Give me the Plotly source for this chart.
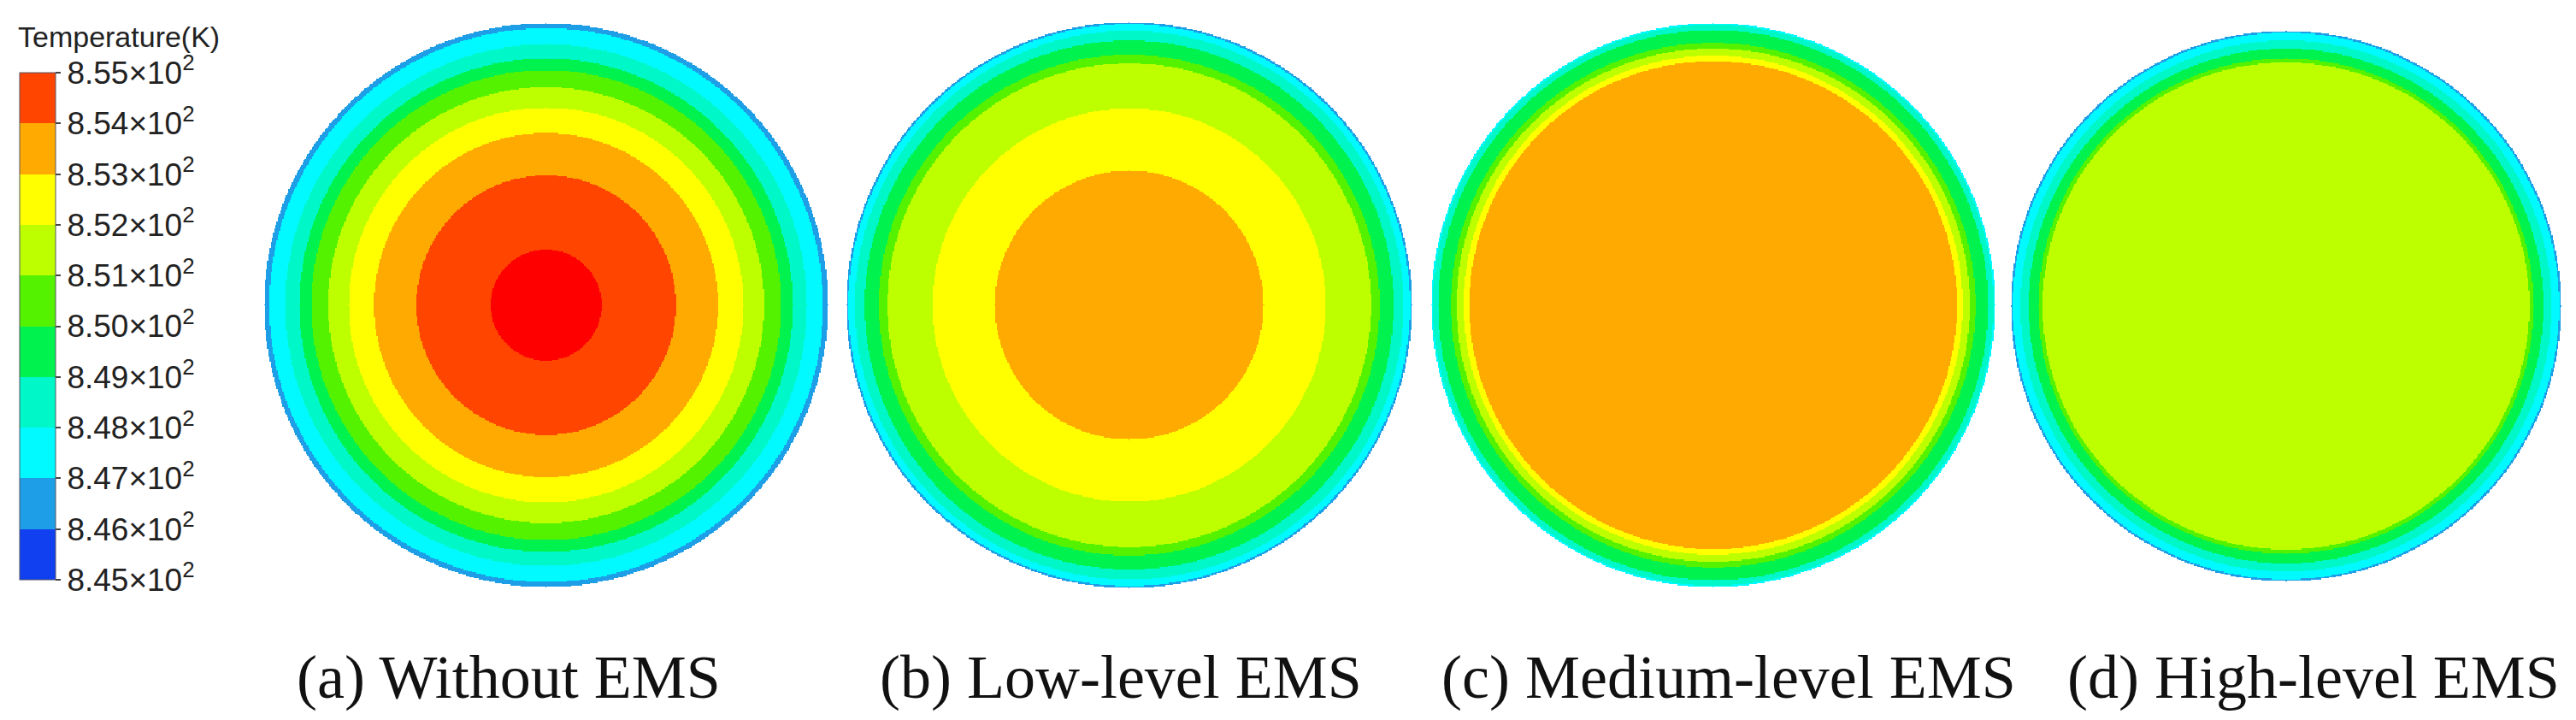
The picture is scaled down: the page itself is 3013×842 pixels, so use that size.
import numpy as np
import plotly.graph_objects as go

# ---------------- data ----------------
panel_labels = ["(a) Without EMS", "(b) Low-level EMS", "(c) Medium-level EMS", "(d) High-level EMS"]

# colour bar levels (K) and tick labels
bar_levels = [845, 846, 847, 848, 849, 850, 851, 852, 853, 854, 855]
bar_ticktext = ["8.%02d×10<sup>2</sup>" % (v - 800) for v in bar_levels]
bar_title = "Temperature(K)"

# band colours, low -> high (last one = above 855 K, centre of case a)
band_colors = ["#1040F0", "#1E9EE6", "#00FAFF", "#00F8C8", "#00F24E",
               "#55F200", "#BEFF00", "#FFFF00", "#FFAA00", "#FF4500", "#FF0000"]

# isotherm radii (fraction of section radius),
# with the temperature reached at each radius (centre -> wall)
radii_a = [0.0, 0.197, 0.46, 0.61, 0.70, 0.773, 0.833, 0.875, 0.925, 0.982, 1.0]
temps_a = [855.5, 855.0, 854.0, 853.0, 852.0, 851.0, 850.0, 849.0, 848.0, 847.0, 846.6]

radii_b = [0.0, 0.475, 0.695, 0.855, 0.885, 0.935, 0.97, 0.993, 1.0]
temps_b = [853.5, 853.0, 852.0, 851.0, 850.0, 849.0, 848.0, 847.0, 846.8]

radii_c = [0.0, 0.865, 0.885, 0.91, 0.93, 0.975, 0.994, 1.0]
temps_c = [853.5, 853.0, 852.0, 851.0, 850.0, 849.0, 848.0, 847.8]

radii_d = [0.0, 0.885, 0.90, 0.935, 0.965, 0.993, 1.0]
temps_d = [851.5, 851.0, 850.0, 849.0, 848.0, 847.0, 846.8]

# ---------------- layout geometry (pixels) ----------------
W, H = 3013, 842
disk_cx = [631, 1313, 1996, 2666]
disk_cy = [349, 349, 349, 350]
disk_r = [330, 331, 330, 322]
caption_cx = [587, 1303, 2014, 2698]
caption_cy = 784

fields = [(radii_a, temps_a), (radii_b, temps_b), (radii_c, temps_c), (radii_d, temps_d)]

nb = len(band_colors)
heat_cs = []
for i, c in enumerate(band_colors):
    heat_cs.append([i / nb, c])
    heat_cs.append([(i + 1) / nb, c])

bar_colors = band_colors[:10]
bar_cs = []
for i, c in enumerate(bar_colors):
    bar_cs.append([i / 10, c])
    bar_cs.append([(i + 1) / 10, c])

N = 481
g = np.linspace(-1, 1, N)
GX, GY = np.meshgrid(g, g)
RR = np.sqrt(GX ** 2 + GY ** 2)

fig = go.Figure()
layout_axes = {}
for i, ((rad, tmp), cx, cy, R) in enumerate(zip(fields, disk_cx, disk_cy, disk_r)):
    Z = np.interp(RR, rad, tmp)
    Z = np.where(RR <= 1.0, Z, np.nan).astype(np.float32)
    k = "" if i == 0 else str(i + 1)
    fig.add_trace(go.Heatmap(
        x=g, y=g, z=Z, xaxis="x" + k, yaxis="y" + k,
        colorscale=heat_cs, zmin=845, zmax=856, showscale=False,
        hoverinfo="skip", zsmooth=False))
    layout_axes["xaxis" + k] = dict(domain=[(cx - R) / W, (cx + R) / W], range=[-1, 1],
                                    visible=False, anchor="y" + k, fixedrange=True)
    layout_axes["yaxis" + k] = dict(domain=[1 - (cy + R) / H, 1 - (cy - R) / H], range=[-1, 1],
                                    visible=False, anchor="x" + k, fixedrange=True)

# colour bar carrier (invisible marker)
fig.add_trace(go.Scatter(
    x=[0], y=[0], xaxis="x", yaxis="y", mode="markers", hoverinfo="skip",
    marker=dict(size=1, opacity=0, color=[850], cmin=845, cmax=855, colorscale=bar_cs,
                showscale=True,
                colorbar=dict(
                    x=15 / W, xanchor="left", y=1 - 77 / H, yanchor="top",
                    len=593, lenmode="pixels", thickness=42, thicknessmode="pixels",
                    tickmode="array", tickvals=bar_levels, ticktext=bar_ticktext,
                    ticks="outside", ticklen=6, tickwidth=1.5, tickcolor="#444",
                    tickfont=dict(family="Liberation Sans, Arial", size=37, color="#222"),
                    outlinewidth=1, outlinecolor="#556", xpad=0, ypad=0, borderwidth=0,
                )),
    showlegend=False))

annotations = [dict(text=bar_title, x=11 / W, y=1 - 35 / H, xref="paper", yref="paper",
                    xanchor="left", yanchor="middle", showarrow=False,
                    font=dict(family="Liberation Sans, Arial", size=34, color="#222"))]
for lab, x in zip(panel_labels, caption_cx):
    annotations.append(dict(text=lab, x=x / W, y=1 - caption_cy / H, xref="paper", yref="paper",
                            xanchor="center", yanchor="middle", showarrow=False,
                            font=dict(family="Liberation Serif, Times New Roman", size=72, color="#111")))

fig.update_layout(
    width=W, height=H, margin=dict(l=0, r=0, t=0, b=0),
    paper_bgcolor="white", plot_bgcolor="white", showlegend=False,
    annotations=annotations, **layout_axes)

fig.write_html("out.html")
